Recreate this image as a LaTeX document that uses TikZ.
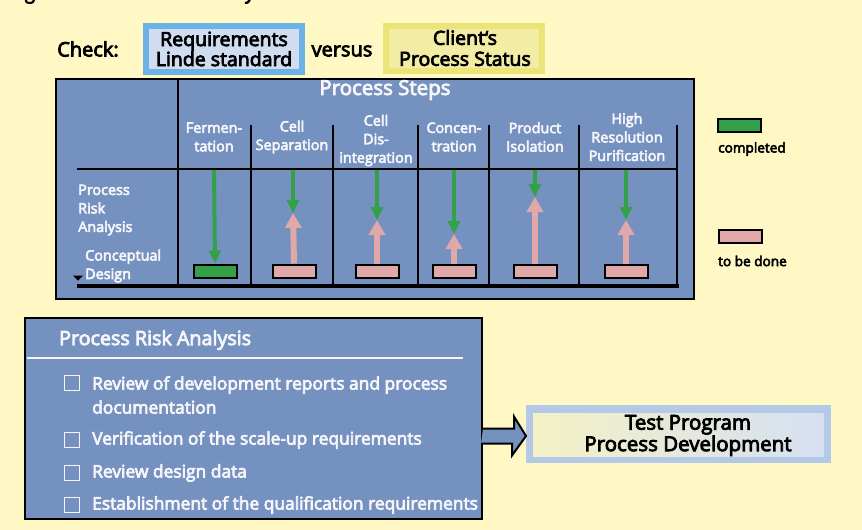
\documentclass[tikz,border=0pt]{standalone}
\usepackage{fontspec}
\setmainfont{Open Sans}
\newfontfamily\semib{Open Sans}[FakeBold=4]
\usetikzlibrary{arrows.meta}

\definecolor{bgyellow}{RGB}{255,248,197}
\definecolor{panelblue}{RGB}{117,145,192}
\definecolor{okgreen}{RGB}{52,160,72}
\definecolor{todopink}{RGB}{224,168,168}
\definecolor{reqouter}{RGB}{108,178,230}
\definecolor{reqinner}{RGB}{208,220,240}
\definecolor{cliouter}{RGB}{236,228,120}
\definecolor{cliinner}{RGB}{242,236,164}
\definecolor{tstouter}{RGB}{180,200,232}
\definecolor{tstleft}{RGB}{244,241,198}
\definecolor{tstright}{RGB}{214,224,242}
\definecolor{paletext}{RGB}{246,246,250}

\tikzset{
  sz/.style 2 args={font=\semib\fontsize{#1}{#2}\selectfont},
  blacklabel/.style={text=black, inner sep=0pt},
  whitelabel/.style={text=paletext, inner sep=0pt},
  colhead/.style={whitelabel, align=center, sz={14.4}{18.5}},
  grid/.style={line width=2.2pt, black},
  donebar/.style={draw=black, line width=2pt, fill=okgreen, minimum width=43, minimum height=13, inner sep=0pt},
  todobar/.style={draw=black, line width=2pt, fill=todopink, minimum width=43, minimum height=13, inner sep=0pt},
  greenarrow/.style={okgreen, line width=4pt, -{Triangle[width=12pt,length=13pt]}},
  pinkarrow/.style={todopink, line width=6pt, -{Triangle[width=16pt,length=15pt]}},
  checkitem/.style={whitelabel, anchor=west, sz={17.4}{24}, align=left},
  tickbox/.style={draw=paletext, line width=0.8pt},
}

\begin{document}
\begin{tikzpicture}[x=1pt,y=-1pt]
\useasboundingbox (0,0) rectangle (862,530);
\fill[bgyellow] (0,0) rectangle (862,530);

% caption line, cut by the top edge
\begin{scope}
\clip (0,0) rectangle (862,530);
\node[blacklabel, anchor=base west, sz={19}{19}] (caption) at (10,-1) {Figure 4: Process Risk Analysis};
\end{scope}

% ---- check line ----
\node[blacklabel, sz={20}{20}] (check) at (88,49) {Check:};
\node[draw=reqouter, line width=6pt, fill=reqinner, minimum width=156, minimum height=46, inner sep=0pt] (req) at (224,49) {};
\node[blacklabel, align=center, sz={19.5}{20}] (reqtxt) at (req.center) {Requirements\\Linde standard};
\node[blacklabel, sz={20}{20}] (versus) at (342,51) {versus};
\node[draw=cliouter, line width=6pt, fill=cliinner, minimum width=156, minimum height=45, inner sep=0pt] (cli) at (464,48.5) {};
\node[blacklabel, align=center, sz={19.5}{21}] (clitxt) at (465,48) {Client‘s\\Process Status};

% ---- process step table ----
\node[draw=black, line width=1.6pt, fill=panelblue, minimum width=638, minimum height=220, inner sep=0pt, anchor=north west] (table) at (55,78) {};
\draw[grid] (178,78) -- (178,287);
\draw[grid] (77,169) -- (678,169);
\foreach \xx in {251,333,418,489,579,677} \draw[grid] (\xx,125) -- (\xx,284);
\draw[line width=4pt, black] (77,286) -- (679,286);

\node[whitelabel, sz={20.5}{20}] (steps) at (385,90) {Process Steps};
\node[colhead] (h1) at (214,137) {Fermen-\\tation};
\node[colhead] (h2) at (292,137) {Cell\\Separation};
\node[colhead] (h3) at (376,140.5) {Cell\\Dis-\\integration};
\node[colhead] (h4) at (454,137) {Concen-\\tration};
\node[colhead] (h5) at (535,137) {Product\\Isolation};
\node[colhead] (h6) at (627,137) {High\\Resolution\\Purification};

\node[whitelabel, anchor=west, align=left, sz={14.4}{18.5}] (pra) at (78,210) {Process\\Risk\\Analysis};
\node[whitelabel, anchor=west, align=left, sz={14.4}{18.5}] (cd) at (85,266) {Conceptual\\Design};
\fill[black] (73,275.5) -- (83,275.5) -- (78,280.5) -- cycle;

% status bars
\node[donebar] (b1) at (215,271) {};
\node[todobar] (b2) at (294,271) {};
\node[todobar] (b3) at (377,271) {};
\node[todobar] (b4) at (454,271) {};
\node[todobar] (b5) at (535,271) {};
\node[todobar] (b6) at (626,271) {};

% arrow meeting points
\coordinate (s1) at (214,170); \coordinate (s2) at (293,170); \coordinate (s3) at (377,170);
\coordinate (s4) at (454,170); \coordinate (s5) at (535,170); \coordinate (s6) at (626,170);
\coordinate (m2) at (293,213); \coordinate (m3) at (377,220); \coordinate (m4) at (454,234);
\coordinate (m5) at (535,197); \coordinate (m6) at (626,220);

\draw[pinkarrow] (b2.north) -- (m2);
\draw[pinkarrow] (b3.north) -- (m3);
\draw[pinkarrow] (b4.north) -- (m4);
\draw[pinkarrow] (b5.north) -- (m5);
\draw[pinkarrow] (b6.north) -- (m6);

\draw[greenarrow] (s1) -- (b1.north);
\draw[greenarrow] (s2) -- (m2);
\draw[greenarrow] (s3) -- (m3);
\draw[greenarrow] (s4) -- (m4);
\draw[greenarrow] (s5) -- (m5);
\draw[greenarrow] (s6) -- (m6);

% legend
\node[donebar] (lg1) at (739.5,125.5) {};
\node[blacklabel, anchor=west, sz={13.6}{13}] (lt1) at (718,149) {completed};
\node[todobar] (lg2) at (740,236) {};
\node[blacklabel, anchor=west, sz={13.6}{13}] (lt2) at (718,261) {to be done};

% ---- risk analysis panel ----
\node[draw=black, line width=2pt, fill=panelblue, minimum width=457, minimum height=201, inner sep=0pt, anchor=north west] (panel) at (24,317) {};
\node[whitelabel, anchor=west, sz={19.7}{19}] (ptitle) at (59,340) {Process Risk Analysis};
\draw[paletext, line width=2pt] (27,358) -- (463,358);

\foreach \yy in {383,440,473,505}
  \draw[tickbox] (64.5,\yy-7.5) rectangle (79.5,\yy+7.5);
\node[checkitem] (i1) at (92,395) {Review of development reports and process\\documentation};
\node[checkitem] (i2) at (92,440) {Verification of the scale-up requirements};
\node[checkitem] (i3) at (92,473) {Review design data};
\node[checkitem] (i4) at (92,505) {Establishment of the qualification requirements};

% ---- test program box ----
\node[fill=tstouter, minimum width=305, minimum height=58, inner sep=0pt, anchor=north west] (tst) at (526,405) {};
\shade[left color=tstleft, right color=tstright] (533,413) rectangle (824,456);
\node[blacklabel, align=center, sz={20.5}{16}] (tsttxt) at (688,435.5) {Test Program\\Process Development};

% hollow block arrow from panel to test box
\coordinate (arrS) at (panel.east |- 0,436);
\draw[black, line width=2pt, fill=panelblue, line join=miter]
  (arrS) ++(0,-7.5) -- ++(31,0) -- ++(0,-12) -- (tst.west |- arrS) -- ++(-14,19.5) -- ++(0,-12) -- ++(-31,0);
\end{tikzpicture}
\end{document}
